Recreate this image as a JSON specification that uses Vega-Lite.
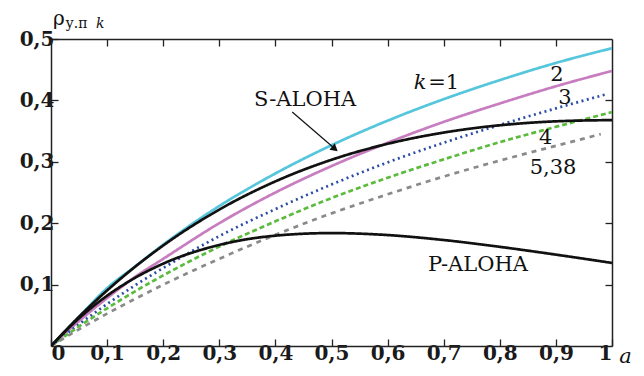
{
  "$schema": "https://vega.github.io/schema/vega-lite/v6.json",
  "width": 561,
  "height": 307,
  "autosize": {"type": "none"},
  "padding": {"left": 51, "top": 39, "right": 32, "bottom": 30},
  "background": "white",
  "config": {
    "view": {"stroke": null},
    "axis": {"grid": false, "domainColor": "#222", "domainWidth": 1.5, "tickColor": "#222", "tickWidth": 1.3, "labelFont": "DejaVu Serif", "labelFontWeight": "bold", "labelFontSize": 20, "labelColor": "#1a1a1a", "title": null}
  },
  "datasets": {
    "curves": [
      {"a": 0, "s": "k1", "v": 0}, {"a": 0.05, "s": "k1", "v": 0.0474}, {"a": 0.1, "s": "k1", "v": 0.0943}, {"a": 0.15, "s": "k1", "v": 0.1295}, {"a": 0.2, "s": "k1", "v": 0.165}, {"a": 0.3, "s": "k1", "v": 0.228}, {"a": 0.4, "s": "k1", "v": 0.281}, {"a": 0.5, "s": "k1", "v": 0.327}, {"a": 0.6, "s": "k1", "v": 0.367}, {"a": 0.7, "s": "k1", "v": 0.402}, {"a": 0.8, "s": "k1", "v": 0.433}, {"a": 0.9, "s": "k1", "v": 0.461}, {"a": 1, "s": "k1", "v": 0.485},
      {"a": 0, "s": "k2", "v": 0}, {"a": 0.05, "s": "k2", "v": 0.0407}, {"a": 0.1, "s": "k2", "v": 0.0781}, {"a": 0.15, "s": "k2", "v": 0.1125}, {"a": 0.2, "s": "k2", "v": 0.142}, {"a": 0.3, "s": "k2", "v": 0.2}, {"a": 0.4, "s": "k2", "v": 0.25}, {"a": 0.5, "s": "k2", "v": 0.293}, {"a": 0.6, "s": "k2", "v": 0.331}, {"a": 0.7, "s": "k2", "v": 0.365}, {"a": 0.8, "s": "k2", "v": 0.395}, {"a": 0.9, "s": "k2", "v": 0.423}, {"a": 1, "s": "k2", "v": 0.448},
      {"a": 0, "s": "k3", "v": 0}, {"a": 0.05, "s": "k3", "v": 0.0354}, {"a": 0.1, "s": "k3", "v": 0.0683}, {"a": 0.15, "s": "k3", "v": 0.0989}, {"a": 0.2, "s": "k3", "v": 0.127}, {"a": 0.3, "s": "k3", "v": 0.179}, {"a": 0.4, "s": "k3", "v": 0.223}, {"a": 0.5, "s": "k3", "v": 0.263}, {"a": 0.6, "s": "k3", "v": 0.299}, {"a": 0.7, "s": "k3", "v": 0.331}, {"a": 0.8, "s": "k3", "v": 0.36}, {"a": 0.9, "s": "k3", "v": 0.387}, {"a": 0.99, "s": "k3", "v": 0.41},
      {"a": 0, "s": "k4", "v": 0}, {"a": 0.05, "s": "k4", "v": 0.0318}, {"a": 0.1, "s": "k4", "v": 0.0614}, {"a": 0.15, "s": "k4", "v": 0.0891}, {"a": 0.2, "s": "k4", "v": 0.115}, {"a": 0.3, "s": "k4", "v": 0.162}, {"a": 0.4, "s": "k4", "v": 0.203}, {"a": 0.5, "s": "k4", "v": 0.241}, {"a": 0.6, "s": "k4", "v": 0.274}, {"a": 0.7, "s": "k4", "v": 0.304}, {"a": 0.8, "s": "k4", "v": 0.332}, {"a": 0.9, "s": "k4", "v": 0.357}, {"a": 1, "s": "k4", "v": 0.381},
      {"a": 0, "s": "k538", "v": 0}, {"a": 0.05, "s": "k538", "v": 0.0271}, {"a": 0.1, "s": "k538", "v": 0.0527}, {"a": 0.15, "s": "k538", "v": 0.0768}, {"a": 0.2, "s": "k538", "v": 0.0998}, {"a": 0.3, "s": "k538", "v": 0.142}, {"a": 0.4, "s": "k538", "v": 0.181}, {"a": 0.5, "s": "k538", "v": 0.216}, {"a": 0.6, "s": "k538", "v": 0.247}, {"a": 0.7, "s": "k538", "v": 0.276}, {"a": 0.8, "s": "k538", "v": 0.302}, {"a": 0.9, "s": "k538", "v": 0.326}, {"a": 0.98, "s": "k538", "v": 0.345},
      {"a": 0, "s": "S", "v": 0}, {"a": 0.05, "s": "S", "v": 0.0476}, {"a": 0.1, "s": "S", "v": 0.0905}, {"a": 0.15, "s": "S", "v": 0.1291}, {"a": 0.2, "s": "S", "v": 0.1637}, {"a": 0.3, "s": "S", "v": 0.2222}, {"a": 0.4, "s": "S", "v": 0.2681}, {"a": 0.5, "s": "S", "v": 0.3033}, {"a": 0.6, "s": "S", "v": 0.3293}, {"a": 0.7, "s": "S", "v": 0.3476}, {"a": 0.8, "s": "S", "v": 0.3595}, {"a": 0.9, "s": "S", "v": 0.3659}, {"a": 1, "s": "S", "v": 0.3679},
      {"a": 0, "s": "P", "v": 0}, {"a": 0.05, "s": "P", "v": 0.0452}, {"a": 0.1, "s": "P", "v": 0.0819}, {"a": 0.15, "s": "P", "v": 0.1111}, {"a": 0.2, "s": "P", "v": 0.1341}, {"a": 0.3, "s": "P", "v": 0.1646}, {"a": 0.4, "s": "P", "v": 0.1797}, {"a": 0.5, "s": "P", "v": 0.1839}, {"a": 0.6, "s": "P", "v": 0.1807}, {"a": 0.7, "s": "P", "v": 0.1726}, {"a": 0.8, "s": "P", "v": 0.1615}, {"a": 0.9, "s": "P", "v": 0.1488}, {"a": 1, "s": "P", "v": 0.1353}
    ],
    "labels": [
      {"a": 0.70, "v": 0.428, "t": "=1"},
      {"a": 0.902, "v": 0.441, "t": "2"},
      {"a": 0.916, "v": 0.404, "t": "3"},
      {"a": 0.882, "v": 0.339, "t": "4"},
      {"a": 0.895, "v": 0.29, "t": "5,38"},
      {"a": 0.453, "v": 0.40, "t": "S-ALOHA"},
      {"a": 0.761, "v": 0.132, "t": "P-ALOHA"}
    ],
    "italic": [
      {"a": 0.658, "v": 0.428, "t": "k"},
      {"a": 1.024, "v": -0.018, "t": "a"}
    ]
  },
  "layer": [
    {
      "data": {"name": "curves"},
      "mark": {"type": "line", "interpolate": "monotone", "clip": true},
      "encoding": {
        "x": {"field": "a", "type": "quantitative", "scale": {"domain": [0, 1], "nice": false},
          "axis": {"orient": "bottom", "values": [0, 0.1, 0.2, 0.3, 0.4, 0.5, 0.6, 0.7, 0.8, 0.9, 1], "tickSize": -7, "labelPadding": 4,
            "labelExpr": "datum.value == 0 ? '0' : datum.value == 1 ? '1' : replace(format(datum.value, '.1f'), '.', ',')"}},
        "y": {"field": "v", "type": "quantitative", "scale": {"domain": [0, 0.5], "nice": false},
          "axis": {"orient": "left", "values": [0.1, 0.2, 0.3, 0.4, 0.5], "tickSize": -7, "labelPadding": 4,
            "labelExpr": "replace(format(datum.value, '.1f'), '.', ',')"}},
        "color": {"field": "s", "type": "nominal", "legend": null,
          "scale": {"domain": ["k1", "k2", "k3", "k4", "k538", "S", "P"], "range": ["#55C6DB", "#C77DBF", "#2C4DA6", "#5CBB3E", "#8A8A8A", "#111111", "#111111"]}},
        "strokeDash": {"field": "s", "type": "nominal", "legend": null,
          "scale": {"domain": ["k1", "k2", "k3", "k4", "k538", "S", "P"], "range": [[1, 0], [1, 0], [2, 3.5], [5, 3], [5, 5], [1, 0], [1, 0]]}},
        "size": {"field": "s", "type": "nominal", "legend": null,
          "scale": {"domain": ["k1", "k2", "k3", "k4", "k538", "S", "P"], "range": [2.7, 2.7, 2.7, 2.7, 2.7, 2.4, 2.4]}},
        "order": {"field": "a", "type": "quantitative"}
      }
    },
    {
      "data": {"values": [{"a1": 0.43, "v1": 0.381, "a2": 0.505, "v2": 0.322}]},
      "mark": {"type": "rule", "color": "#111", "strokeWidth": 1.2},
      "encoding": {
        "x": {"field": "a1", "type": "quantitative", "axis": {"orient": "top", "values": [0.1, 0.2, 0.3, 0.4, 0.5, 0.6, 0.7, 0.8, 0.9], "tickSize": -7, "labels": false}},
        "y": {"field": "v1", "type": "quantitative", "axis": {"orient": "right", "values": [0.1, 0.2, 0.3, 0.4], "tickSize": -7, "labels": false}},
        "x2": {"field": "a2"},
        "y2": {"field": "v2"}
      }
    },
    {
      "data": {"values": [{"a": 0.506, "v": 0.321}]},
      "mark": {"type": "point", "shape": "triangle-down", "filled": true, "color": "#111", "size": 70, "angle": 310, "opacity": 1},
      "encoding": {"x": {"field": "a", "type": "quantitative", "axis": null}, "y": {"field": "v", "type": "quantitative", "axis": null}}
    },
    {
      "data": {"name": "labels"},
      "mark": {"type": "text", "font": "DejaVu Serif", "fontSize": 21, "color": "#111", "align": "center", "baseline": "middle"},
      "encoding": {"x": {"field": "a", "type": "quantitative", "axis": null}, "y": {"field": "v", "type": "quantitative", "axis": null}, "text": {"field": "t"}}
    },
    {
      "data": {"name": "italic"},
      "mark": {"type": "text", "font": "DejaVu Serif", "fontStyle": "italic", "fontSize": 21, "color": "#111", "align": "center", "baseline": "middle"},
      "encoding": {"x": {"field": "a", "type": "quantitative", "axis": null}, "y": {"field": "v", "type": "quantitative", "axis": null}, "text": {"field": "t"}}
    },
    {
      "data": {"values": [{"a": 0.0, "v": 0.532, "t": "ρ"}]},
      "mark": {"type": "text", "font": "DejaVu Serif", "fontSize": 20, "color": "#111", "align": "left", "baseline": "middle", "dx": 2},
      "encoding": {"x": {"field": "a", "type": "quantitative", "axis": null}, "y": {"field": "v", "type": "quantitative", "axis": null}, "text": {"field": "t"}}
    },
    {
      "data": {"values": [{"a": 0.026, "v": 0.524, "t": "у.п"}]},
      "mark": {"type": "text", "font": "DejaVu Serif", "fontSize": 14, "color": "#111", "align": "left", "baseline": "middle"},
      "encoding": {"x": {"field": "a", "type": "quantitative", "axis": null}, "y": {"field": "v", "type": "quantitative", "axis": null}, "text": {"field": "t"}}
    },
    {
      "data": {"values": [{"a": 0.08, "v": 0.524, "t": "k"}]},
      "mark": {"type": "text", "font": "DejaVu Serif", "fontStyle": "italic", "fontSize": 14, "color": "#111", "align": "left", "baseline": "middle"},
      "encoding": {"x": {"field": "a", "type": "quantitative", "axis": null}, "y": {"field": "v", "type": "quantitative", "axis": null}, "text": {"field": "t"}}
    }
  ],
  "resolve": {"axis": {"x": "independent", "y": "independent"}}
}
